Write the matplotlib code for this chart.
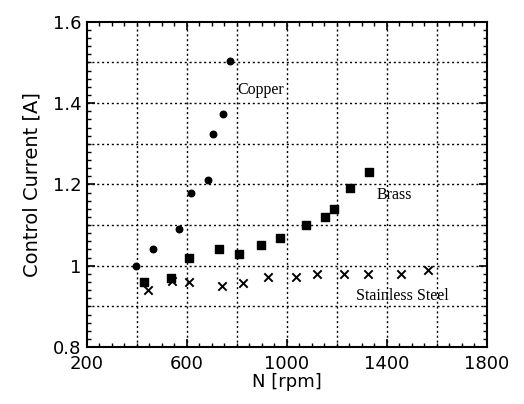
import matplotlib
matplotlib.use("Agg")
import matplotlib.pyplot as plt
from matplotlib.ticker import MultipleLocator, FixedFormatter, FixedLocator

# ── Data ──────────────────────────────────────────────────────────────────────
copper_n = [395, 464, 568, 616, 684, 704, 744, 772]
copper_i = [1.00, 1.04, 1.09, 1.18, 1.21, 1.325, 1.374, 1.504]

brass_n = [428, 536, 608, 728, 808, 896, 972, 1076, 1152, 1188, 1252, 1328]
brass_i = [0.96, 0.97, 1.02, 1.04, 1.03, 1.05, 1.068, 1.10, 1.12, 1.14, 1.19, 1.23]

steel_n = [444, 540, 608, 740, 824, 924, 1036, 1120, 1228, 1324, 1456, 1564]
steel_i = [0.94, 0.963, 0.96, 0.95, 0.958, 0.972, 0.972, 0.98, 0.98, 0.98, 0.98, 0.99]

x_ticks = [200, 600, 1000, 1400, 1800]
y_ticks = [0.8, 1.0, 1.2, 1.4, 1.6]
y_tick_labels = ["0.8", "1", "1.2", "1.4", "1.6"]

# ── Plot ──────────────────────────────────────────────────────────────────────
fig = plt.figure(figsize=(5.24, 4.04), dpi=100)
ax = fig.add_axes([0.166, 0.141, 0.763, 0.805])

ax.scatter(copper_n, copper_i, s=22, marker="o", color="black", zorder=3)
ax.scatter(brass_n, brass_i, s=40, marker="s", color="black", zorder=3)
ax.scatter(steel_n, steel_i, s=36, marker="x", color="black", linewidths=1.4, zorder=3)

serif = dict(family="Liberation Serif", fontsize=11.5, color="black")
ax.text(800, 1.433, "Copper", va="center", **serif)
ax.text(1360, 1.174, "Brass", va="center", **serif)
ax.text(1276, 0.925, "Stainless Steel", va="center", **serif)

ax.set_xlim(200, 1800)
ax.set_ylim(0.8, 1.6)

ax.xaxis.set_major_locator(FixedLocator(x_ticks))
ax.yaxis.set_major_locator(FixedLocator(y_ticks))
ax.yaxis.set_major_formatter(FixedFormatter(y_tick_labels))
ax.xaxis.set_minor_locator(MultipleLocator(50))
ax.yaxis.set_minor_locator(MultipleLocator(0.02))

# dotted grid every 200 rpm / 0.1 A
for gx in range(400, 1800, 200):
    ax.axvline(gx, color="black", ls=(0, (1.5, 2)), lw=1.0, zorder=1)
for k in range(1, 8):
    ax.axhline(0.8 + 0.1 * k, color="black", ls=(0, (1.5, 2)), lw=1.0, zorder=1)

ax.tick_params(which="both", direction="in", top=True, right=True)
ax.tick_params(which="major", length=6, width=1.2, labelsize=13)
ax.tick_params(axis="x", which="major", pad=6)
ax.tick_params(axis="y", which="major", pad=4)
ax.tick_params(which="minor", length=3, width=1.0)
for sp in ax.spines.values():
    sp.set_linewidth(1.5)

ax.set_xlabel("N [rpm]", fontsize=13, labelpad=0)
ax.set_ylabel("Control Current [A]", fontsize=14, labelpad=8)

plt.savefig("out.png", dpi=100)
